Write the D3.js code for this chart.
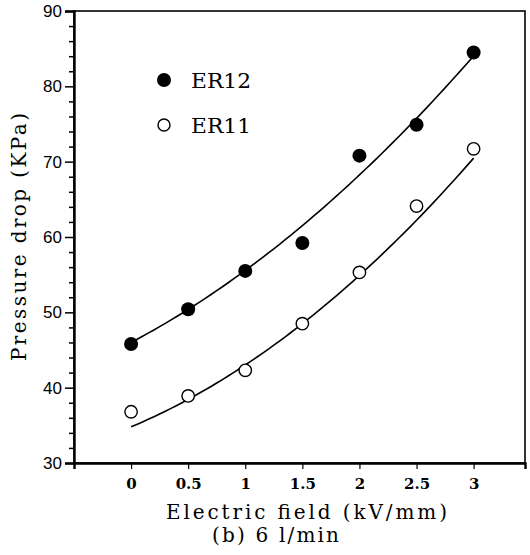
<!DOCTYPE html>
<html>
<head>
<meta charset="utf-8">
<script src="https://cdn.jsdelivr.net/npm/d3@7"></script>
<style>
html,body{margin:0;padding:0;background:#fff;}
svg{display:block;}
</style>
</head>
<body>
<script>
// ---- data ----
const fieldValues = [0, 0.5, 1, 1.5, 2, 2.5, 3];
const er12Values = [45.8, 50.4, 55.5, 59.2, 70.8, 74.9, 84.5];
const er11Values = [36.8, 38.9, 42.3, 48.5, 55.3, 64.1, 71.7];
// quadratic fit curves: [a, b, c] for a + b*x + c*x^2
const er12Fit = [46.0, 8.0, 1.56];
const er11Fit = [34.8, 6.37, 1.84];
const xTickValues = [0, 0.5, 1, 1.5, 2, 2.5, 3];
const xTickLabels = ["0", "0.5", "1", "1.5", "2", "2.5", "3"];
const yTickValues = [30, 40, 50, 60, 70, 80, 90];
const yMinorTicks = d3.range(30, 91, 2);
const legendLabels = ["ER12", "ER11"];

const W = 530, H = 555;
const svg = d3.select("body").append("svg").attr("width", W).attr("height", H);

const x = d3.scaleLinear().domain([-0.5, 3.45]).range([74, 525]);
const y = d3.scaleLinear().domain([30, 90]).range([463, 11]);

const serif = "'DejaVu Serif', 'Liberation Serif', serif";
const sans = "'Liberation Sans', Arial, sans-serif";

// frame
svg.append("rect")
  .attr("x", x(-0.5)).attr("y", y(90))
  .attr("width", x(3.45) - x(-0.5)).attr("height", y(30) - y(90))
  .attr("fill", "none").attr("stroke", "#000").attr("stroke-width", 1.6);

// y axis
const yAxis = svg.append("g").attr("transform", `translate(${x(-0.5)},0)`)
  .call(d3.axisLeft(y).tickValues(yTickValues).tickSize(9).tickPadding(3).tickFormat(d3.format("d")));
yAxis.select(".domain").attr("stroke-width", 2.4);
yAxis.selectAll(".tick line").attr("stroke-width", 1.5);
yAxis.selectAll("text").attr("font-family", sans).attr("font-size", 17).attr("fill", "#000");
svg.append("g").attr("transform", `translate(${x(-0.5)},0)`)
  .call(d3.axisLeft(y).tickValues(yMinorTicks.filter(v => v % 10 !== 0)).tickSize(5).tickFormat(""))
  .call(g => g.select(".domain").remove())
  .selectAll(".tick line").attr("stroke-width", 1.5);

// x axis
const xAxis = svg.append("g").attr("transform", `translate(0,${y(30)})`)
  .call(d3.axisBottom(x).tickValues(xTickValues).tickSize(6).tickPadding(9)
    .tickFormat((d, i) => xTickLabels[i]));
xAxis.select(".domain").attr("stroke-width", 2.4);
xAxis.selectAll(".tick line").attr("stroke-width", 1.2);
xAxis.selectAll("text").attr("font-family", serif).attr("font-size", 15)
  .attr("font-weight", "bold").attr("fill", "#000");

// fit curves
const line = d3.line().x(d => x(d[0])).y(d => y(d[1]));
const samples = d3.range(0, 3.0001, 0.05);
function curve(coef) { return samples.map(v => [v, coef[0] + coef[1] * v + coef[2] * v * v]); }
[er12Fit, er11Fit].forEach(c => {
  svg.append("path").datum(curve(c)).attr("d", line)
    .attr("fill", "none").attr("stroke", "#000").attr("stroke-width", 1.6);
});

// points
svg.append("g").selectAll("circle").data(fieldValues.map((f, i) => [f, er12Values[i]]))
  .join("circle").attr("cx", d => x(d[0])).attr("cy", d => y(d[1])).attr("r", 7).attr("fill", "#000");
svg.append("g").selectAll("circle").data(fieldValues.map((f, i) => [f, er11Values[i]]))
  .join("circle").attr("cx", d => x(d[0])).attr("cy", d => y(d[1])).attr("r", 6.2)
  .attr("fill", "#fff").attr("stroke", "#000").attr("stroke-width", 1.4);

// legend
const lg = svg.append("g");
lg.append("circle").attr("cx", 164).attr("cy", 80).attr("r", 7).attr("fill", "#000");
lg.append("circle").attr("cx", 164).attr("cy", 125).attr("r", 6).attr("fill", "#fff")
  .attr("stroke", "#000").attr("stroke-width", 1.4);
lg.selectAll("text").data(legendLabels).join("text")
  .attr("x", 191).attr("y", (d, i) => 88 + i * 45)
  .attr("font-family", serif).attr("font-size", 21)
  .attr("textLength", 60).attr("lengthAdjust", "spacingAndGlyphs")
  .text(d => d);

// axis titles
svg.append("text").attr("x", 166).attr("y", 519)
  .attr("font-family", serif).attr("font-size", 20)
  .attr("textLength", 281).attr("lengthAdjust", "spacing")
  .text("Electric field (kV/mm)");
svg.append("text").attr("x", 212).attr("y", 542)
  .attr("font-family", serif).attr("font-size", 20)
  .attr("textLength", 127).attr("lengthAdjust", "spacing")
  .text("(b) 6 l/min");
svg.append("text")
  .attr("transform", "translate(26,361) rotate(-90)")
  .attr("font-family", serif).attr("font-size", 20)
  .attr("textLength", 248).attr("lengthAdjust", "spacing")
  .text("Pressure drop (KPa)");
</script>
</body>
</html>
